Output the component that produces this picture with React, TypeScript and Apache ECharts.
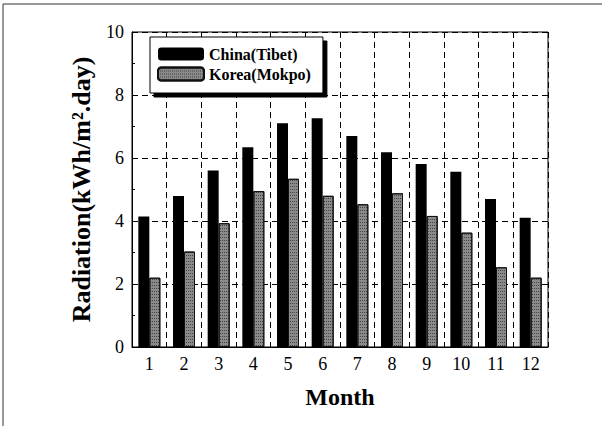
import React, { useEffect, useRef } from "react";
import * as echarts from "echarts";

const months = ["1", "2", "3", "4", "5", "6", "7", "8", "9", "10", "11", "12"];
const chinaTibet = [4.14, 4.79, 5.6, 6.34, 7.1, 7.26, 6.7, 6.18, 5.81, 5.56, 4.7, 4.1];
const koreaMokpo = [2.2, 3.03, 3.93, 4.95, 5.34, 4.8, 4.53, 4.88, 4.16, 3.63, 2.53, 2.2];
const seriesNames = ["China(Tibet)", "Korea(Mokpo)"];
const yTitle = "Radiation(kWh/m\u00B2.day)";
const xTitle = "Month";

const FONT = "Liberation Serif";

export default function App() {
  const ref = useRef<HTMLDivElement>(null);
  useEffect(() => {
    if (!ref.current) return;
    const chart = echarts.init(ref.current, undefined, { renderer: "svg" });
    chart.setOption({
      animation: false,
      backgroundColor: "#ffffff",
      textStyle: { fontFamily: FONT, color: "#000" },
      grid: {
        left: 132,
        top: 32,
        right: 57,
        bottom: 79,
        show: true,
        borderColor: "#000",
        borderWidth: 1,
        backgroundColor: "transparent",
      },
      legend: {
        orient: "vertical",
        left: 150,
        top: 37,
        data: seriesNames,
        itemWidth: 46,
        itemHeight: 13,
        itemGap: 4,
        padding: [9, 12, 11, 7],
        backgroundColor: "#fff",
        borderColor: "#000",
        borderWidth: 1,
        shadowColor: "#000",
        shadowBlur: 0,
        shadowOffsetX: 4,
        shadowOffsetY: 4,
        textStyle: { fontFamily: FONT, fontWeight: "bold", fontSize: 16, color: "#000" },
      },
      xAxis: [
        {
          type: "category",
          data: months,
          name: xTitle,
          nameLocation: "middle",
          nameGap: 38,
          nameTextStyle: { fontFamily: FONT, fontWeight: "bold", fontSize: 24, color: "#000" },
          axisLine: { lineStyle: { color: "#000", width: 1 } },
          axisTick: { show: true, inside: true, length: 4, lineStyle: { color: "#000" } },
          axisLabel: { fontFamily: FONT, fontSize: 18, color: "#000", margin: 8 },
          splitLine: { show: false },
        },
        {
          type: "value",
          min: 0.5,
          max: 12.5,
          interval: 1,
          position: "bottom",
          axisLine: { show: false },
          axisTick: { show: false },
          axisLabel: { show: false },
          splitLine: { show: true, lineStyle: { color: "#000", type: [6, 4], width: 1 } },
        },
      ],
      yAxis: {
        type: "value",
        min: 0,
        max: 10,
        interval: 2,
        name: yTitle,
        nameLocation: "middle",
        nameGap: 38,
        nameTextStyle: { fontFamily: FONT, fontWeight: "bold", fontSize: 26, color: "#000" },
        axisLine: { show: true, lineStyle: { color: "#000", width: 1 } },
        axisTick: { show: true, inside: true, length: 5, lineStyle: { color: "#000" } },
        minorTick: { show: true, splitNumber: 2, length: 3, lineStyle: { color: "#000" } },
        axisLabel: { fontFamily: FONT, fontSize: 18, color: "#000", margin: 8 },
        splitLine: { show: true, lineStyle: { color: "#000", type: [6, 4], width: 1 } },
      },
      series: [
        {
          name: seriesNames[0],
          type: "bar",
          xAxisIndex: 0,
          data: chinaTibet,
          barWidth: 11,
          barGap: "0%",
          itemStyle: { color: "#000", borderColor: "#000", borderWidth: 0 },
        },
        {
          name: seriesNames[1],
          type: "bar",
          xAxisIndex: 0,
          data: koreaMokpo,
          barWidth: 11,
          barGap: "0%",
          itemStyle: {
            color: "#8a8a8a",
            borderColor: "#111",
            borderWidth: 1,
            decal: {
              symbol: "rect",
              symbolSize: 1,
              color: "rgba(0,0,0,0.5)",
              dashArrayX: [1, 1],
              dashArrayY: [1, 2],
              rotation: 0,
            },
          },
        },
      ],
      graphic: [
        {
          type: "polyline",
          silent: true,
          shape: { points: [[3, 426], [3, 4], [602, 4]] },
          style: { stroke: "#333", lineWidth: 1, fill: null },
        },
      ],
    });
    return () => chart.dispose();
  }, []);
  return (
    <div
      ref={ref}
      style={{ position: "fixed", left: 0, top: 0, width: 605, height: 426 }}
    />
  );
}
